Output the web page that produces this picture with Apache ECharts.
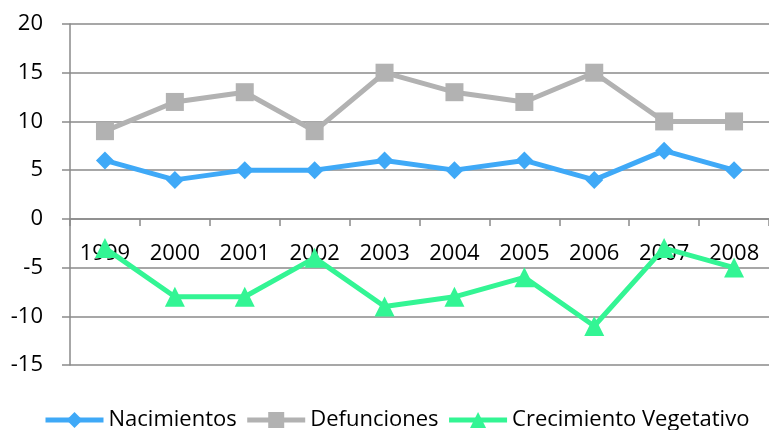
<!DOCTYPE html>
<html>
<head>
<meta charset="utf-8">
<script src="https://cdn.jsdelivr.net/npm/echarts@6/dist/echarts.min.js"></script>
<style>
html,body{margin:0;padding:0;background:#fff;}
#chart{width:769px;height:430px;}
</style>
</head>
<body>
<div id="chart"></div>
<script>
var categories = ['1999','2000','2001','2002','2003','2004','2005','2006','2007','2008'];
var nacimientos = [6,4,5,5,6,5,6,4,7,5];
var defunciones = [9,12,13,9,15,13,12,15,10,10];
var crecimiento = [-3,-8,-8,-4,-9,-8,-6,-11,-3,-5];
var seriesNames = ['Nacimientos','Defunciones','Crecimiento Vegetativo'];

var FONT = 'Open Sans';
var chart = echarts.init(document.getElementById('chart'));
chart.setOption({
  animation: false,
  backgroundColor: '#ffffff',
  textStyle: { fontFamily: FONT },
  grid: { left: 70, top: 24, bottom: 65, width: 705, containLabel: false },
  legend: {
    left: 38, top: 404,
    itemWidth: 58, itemHeight: 20, itemGap: 8,
    lineStyle: { width: 5 },
    textStyle: { fontFamily: FONT, fontSize: 22, color: '#000' },
    data: seriesNames
  },
  xAxis: {
    type: 'category',
    data: categories,
    boundaryGap: true,
    position: 'bottom',
    offset: -146,
    axisLine: { onZero: false, lineStyle: { color: '#8a8a8a', width: 1.5 } },
    axisTick: { show: true, length: 7, inside: false, alignWithLabel: false, lineStyle: { color: '#8a8a8a', width: 1.5 } },
    axisLabel: { fontFamily: FONT, fontSize: 22, color: '#000', margin: 24, interval: 0 },
    splitLine: { show: false }
  },
  yAxis: {
    type: 'value',
    min: -15, max: 20, interval: 5,
    axisLine: { show: true, onZero: false, lineStyle: { color: '#8a8a8a', width: 1.5 } },
    axisTick: { show: true, length: 8, lineStyle: { color: '#8a8a8a', width: 1.5 } },
    axisLabel: { fontFamily: FONT, fontSize: 22, color: '#000', margin: 27 },
    splitLine: { show: true, lineStyle: { color: '#8a8a8a', width: 1.5 } }
  },
  series: [
    {
      name: seriesNames[0], type: 'line', data: nacimientos,
      symbol: 'diamond', symbolSize: 18,
      lineStyle: { color: '#3fa9f7', width: 5 },
      itemStyle: { color: '#3fa9f7' }
    },
    {
      name: seriesNames[1], type: 'line', data: defunciones,
      symbol: 'rect', symbolSize: 18,
      lineStyle: { color: '#b2b2b2', width: 5 },
      itemStyle: { color: '#b2b2b2' }
    },
    {
      name: seriesNames[2], type: 'line', data: crecimiento,
      symbol: 'triangle', symbolSize: 20,
      lineStyle: { color: '#33f594', width: 5 },
      itemStyle: { color: '#33f594' }
    }
  ]
});
</script>
</body>
</html>
